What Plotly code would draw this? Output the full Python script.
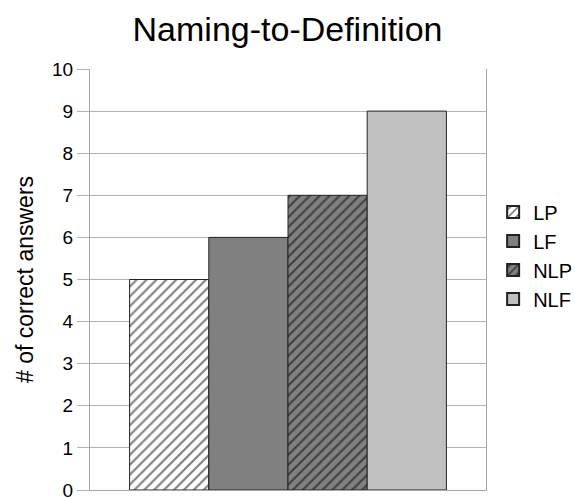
import plotly.graph_objects as go

# Correct answers per condition
series = ["LP", "LF", "NLP", "NLF"]
values = [5, 6, 7, 9]
fills = ["#ffffff", "#808080", "#808080", "#c0c0c0"]
hatch = ["/", "", "/", ""]

FONT = "Liberation Sans, Arial, sans-serif"

fig = go.Figure()
for name, v, c, h in zip(series, values, fills, hatch):
    fig.add_trace(go.Bar(
        name=name,
        x=[""],
        y=[v],
        marker=dict(
            color=c,
            line=dict(color="#222222", width=1),
            pattern=dict(shape=h, fgcolor="#000000", bgcolor=c, size=7, solidity=0.3),
        ),
    ))

fig.update_layout(
    width=575,
    height=499,
    barmode="group",
    bargap=0.2,
    bargroupgap=0,
    plot_bgcolor="#ffffff",
    paper_bgcolor="#ffffff",
    margin=dict(l=90, r=89, t=69, b=9, autoexpand=False),
    font=dict(family=FONT, color="#000000", size=20),
    title=dict(text="Naming-to-Definition", x=0.5, xanchor="center", y=0.942, yanchor="middle",
               font=dict(size=34, family=FONT)),
    legend=dict(x=1.018, y=0.557, xanchor="left", yanchor="middle", font=dict(size=20),
                itemsizing="constant", tracegroupgap=0, bgcolor="rgba(0,0,0,0)"),
    showlegend=True,
)
fig.update_yaxes(
    range=[0, 10], dtick=1, showgrid=True, gridcolor="#b3b3b3", gridwidth=1,
    showline=True, linecolor="#a6a6a6", linewidth=1, mirror=True,
    ticks="outside", ticklen=12, tickcolor="#b3b3b3",
    ticklabeloverflow="allow", automargin=False,
    tickfont=dict(size=19),
    title=dict(text="# of correct answers", font=dict(size=23), standoff=12),
    zeroline=False,
)
fig.update_xaxes(
    showline=True, linecolor="#a6a6a6", linewidth=1, showticklabels=False,
    ticks="", showgrid=False, automargin=False,
)

fig.write_html("out.html")
